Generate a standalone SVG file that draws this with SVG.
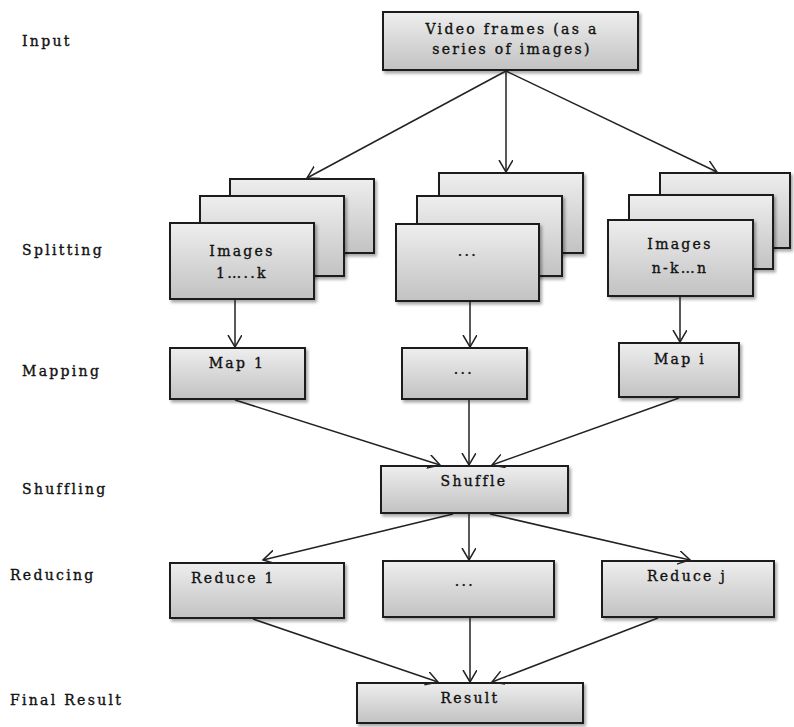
<svg xmlns="http://www.w3.org/2000/svg" width="794" height="727" viewBox="0 0 794 727">
<defs>
<linearGradient id="g" x1="0" y1="0" x2="0" y2="1">
<stop offset="0" stop-color="#eeeeee"/>
<stop offset="1" stop-color="#c2c2c2"/>
</linearGradient>
<filter id="sh" x="-10%" y="-10%" width="125%" height="130%">
<feDropShadow dx="2" dy="2.5" stdDeviation="1.5" flood-color="#000" flood-opacity="0.35"/>
</filter>
<marker id="ah" markerUnits="userSpaceOnUse" markerWidth="16" markerHeight="16" refX="12" refY="7" orient="auto">
<path d="M0,0 L12,7 L0,14" fill="none" stroke="#222" stroke-width="1.5"/>
</marker>
</defs>
<style>
.box{fill:url(#g);stroke:#1a1a1a;stroke-width:2;filter:url(#sh)}
.t{font-family:"DejaVu Serif","Liberation Serif",serif;font-size:14px;letter-spacing:2.3px;fill:#111;stroke:#111;stroke-width:0.35px}
.m{text-anchor:middle}
.c{fill:none;stroke:#222;stroke-width:1.5;marker-end:url(#ah)}
</style>
<rect width="794" height="727" fill="#fff"/>

<g id="labels">
<text class="t" x="22" y="46">Input</text>
<text class="t" x="22" y="255">Splitting</text>
<text class="t" x="22" y="376">Mapping</text>
<text class="t" x="22" y="494">Shuffling</text>
<text class="t" x="10" y="580">Reducing</text>
<text class="t" x="10" y="705">Final Result</text>
</g>

<g id="input">
<rect class="box" x="383" y="12" width="255" height="58"/>
<text class="t m" x="512" y="34">Video frames (as a</text>
<text class="t m" x="512" y="54">series of images)</text>
</g>

<g id="split1">
<rect class="box" x="230" y="179" width="144" height="74"/>
<rect class="box" x="200" y="196" width="144" height="80"/>
<rect class="box" x="170" y="223" width="144" height="76"/>
<text class="t m" x="242" y="256">Images</text>
<text class="t m" x="242" y="278">1…..k</text>
</g>

<g id="split2">
<rect class="box" x="439" y="173" width="144" height="80"/>
<rect class="box" x="417" y="196" width="145" height="80"/>
<rect class="box" x="396" y="224" width="143" height="77"/>
<text class="t m" x="468" y="256">...</text>
</g>

<g id="split3">
<rect class="box" x="660" y="173" width="130" height="75"/>
<rect class="box" x="629" y="195" width="144" height="74"/>
<rect class="box" x="608" y="220" width="145" height="76"/>
<text class="t m" x="680" y="249">Images</text>
<text class="t m" x="680" y="273">n-k…n</text>
</g>

<g id="map1">
<rect class="box" x="170" y="348" width="135" height="51"/>
<text class="t m" x="237" y="368">Map 1</text>
</g>
<g id="map2">
<rect class="box" x="402" y="348" width="125" height="51"/>
<text class="t m" x="464" y="374">...</text>
</g>
<g id="map3">
<rect class="box" x="619" y="343" width="120" height="54"/>
<text class="t m" x="680" y="364">Map i</text>
</g>

<g id="shuffle">
<rect class="box" x="381" y="466" width="187" height="47"/>
<text class="t m" x="474" y="486">Shuffle</text>
</g>

<g id="reduce1">
<rect class="box" x="170" y="563" width="174" height="55"/>
<text class="t" x="191" y="583">Reduce 1</text>
</g>
<g id="reduce2">
<rect class="box" x="383" y="561" width="171" height="56"/>
<text class="t m" x="465" y="586">...</text>
</g>
<g id="reduce3">
<rect class="box" x="602" y="561" width="172" height="56"/>
<text class="t m" x="687" y="581">Reduce j</text>
</g>

<g id="result">
<rect class="box" x="357" y="683" width="226" height="40"/>
<text class="t m" x="470" y="703">Result</text>
</g>

<g id="connectors">
<line class="c" x1="506" y1="71" x2="307" y2="178"/>
<line class="c" x1="506" y1="71" x2="506" y2="172"/>
<line class="c" x1="506" y1="71" x2="717" y2="172"/>
<line class="c" x1="235" y1="300" x2="235" y2="347"/>
<line class="c" x1="470" y1="302" x2="470" y2="347"/>
<line class="c" x1="680" y1="297" x2="680" y2="342"/>
<line class="c" x1="235" y1="400" x2="440" y2="465"/>
<line class="c" x1="469" y1="400" x2="469" y2="465"/>
<line class="c" x1="679" y1="398" x2="492" y2="465"/>
<line class="c" x1="453" y1="514" x2="263" y2="560"/>
<line class="c" x1="469" y1="514" x2="469" y2="560"/>
<line class="c" x1="490" y1="514" x2="690" y2="560"/>
<line class="c" x1="253" y1="619" x2="438" y2="682"/>
<line class="c" x1="470" y1="618" x2="470" y2="682"/>
<line class="c" x1="658" y1="618" x2="492" y2="682"/>
</g>
</svg>
